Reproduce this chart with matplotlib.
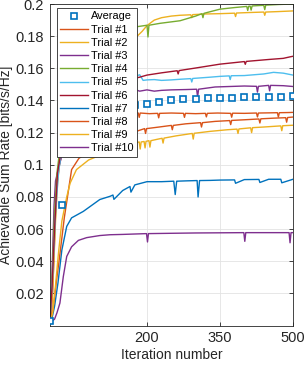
import numpy as np
import matplotlib.pyplot as plt

# average curve (markers every 25 iterations)
avg_it = [0, 25, 50, 75, 100, 125, 150, 175, 200, 225, 250, 275, 300,
          325, 350, 375, 400, 425, 450, 475, 500]
avg_val = [0.003, 0.075, 0.110, 0.122, 0.128, 0.132, 0.135, 0.137, 0.138,
           0.139, 0.1402, 0.1408, 0.1412, 0.1415, 0.1417, 0.1418, 0.142,
           0.142, 0.1421, 0.1423, 0.1425]

# trial curves (iteration, rate)
t1_it = [0, 3, 6, 9, 12, 15, 20, 30, 45, 70, 100, 140, 175, 182, 184, 186, 205,
         222, 224, 226, 250, 275, 277, 279, 300, 320, 322, 324, 345, 372, 374,
         376, 400, 425, 427, 429, 450, 468, 470, 472, 490, 500]
t1_val = [0.002, 0.006, 0.02, 0.045, 0.07, 0.088, 0.1, 0.113, 0.122, 0.128,
          0.131, 0.1325, 0.1326, 0.1322, 0.1295, 0.1322, 0.1318, 0.132, 0.1292,
          0.132, 0.1322, 0.132, 0.1295, 0.132, 0.1318, 0.132, 0.1298, 0.132,
          0.1322, 0.132, 0.1296, 0.1321, 0.132, 0.1322, 0.1298, 0.1322, 0.1323,
          0.1324, 0.1297, 0.1324, 0.1325, 0.1326]

t2_it = [0, 4, 8, 12, 16, 20, 30, 45, 70, 100, 140, 173, 190, 200, 215, 230,
         250, 268, 290, 292, 294, 320, 350, 380, 382, 384, 410, 440, 442, 444,
         470, 500]
t2_val = [0.002, 0.012, 0.035, 0.065, 0.088, 0.1, 0.118, 0.135, 0.15, 0.162,
          0.172, 0.178, 0.183, 0.1866, 0.19, 0.1915, 0.1925, 0.193, 0.1933,
          0.1915, 0.1934, 0.1938, 0.194, 0.1943, 0.1922, 0.1944, 0.1947, 0.195,
          0.193, 0.195, 0.1953, 0.1957]

t3_it = [0, 3, 6, 9, 12, 18, 30, 60, 100, 140, 173, 185, 200, 215, 230, 250,
         280, 302, 304, 306, 340, 370, 400, 425, 427, 429, 450, 452, 454, 480,
         500]
t3_val = [0.002, 0.015, 0.045, 0.075, 0.09, 0.0975, 0.112, 0.128, 0.138, 0.145,
          0.147, 0.1458, 0.1466, 0.1458, 0.1463, 0.1466, 0.1468, 0.147, 0.1422,
          0.147, 0.1484, 0.1487, 0.149, 0.1488, 0.1452, 0.1488, 0.1494, 0.146,
          0.1494, 0.1492, 0.1487]

t4_it = [0, 5, 10, 15, 25, 50, 100, 140, 173, 200, 202, 204, 227, 268, 300, 313,
         315, 317, 350, 380, 405, 407, 409, 412, 414, 416, 440, 442, 444, 470,
         500]
t4_val = [0.002, 0.03, 0.07, 0.095, 0.12, 0.15, 0.172, 0.182, 0.1856, 0.1868,
          0.1795, 0.1868, 0.188, 0.1896, 0.1925, 0.194, 0.1915, 0.1942, 0.1968,
          0.1978, 0.1985, 0.196, 0.1986, 0.1987, 0.1962, 0.1988, 0.1992, 0.1965,
          0.1993, 0.1997, 0.2]

t5_it = [0, 6, 12, 18, 30, 60, 120, 173, 180, 185, 192, 200, 215, 230, 250, 268,
         290, 292, 294, 330, 350, 369, 371, 373, 400, 440, 460, 480, 500]
t5_val = [0.002, 0.03, 0.07, 0.095, 0.12, 0.14, 0.152, 0.1548, 0.1555, 0.156,
          0.1525, 0.1528, 0.153, 0.1525, 0.1528, 0.1532, 0.1536, 0.1515, 0.1537,
          0.1545, 0.155, 0.1553, 0.153, 0.1554, 0.1555, 0.1565, 0.1575, 0.157,
          0.1558]

t6_it = [0, 5, 10, 16, 30, 60, 120, 173, 185, 200, 230, 262, 264, 266, 300,
         350, 400, 402, 404, 450, 480, 495, 500]
t6_val = [0.002, 0.025, 0.06, 0.095, 0.12, 0.138, 0.15, 0.1537, 0.1545, 0.1558,
          0.1572, 0.1585, 0.1565, 0.1586, 0.1602, 0.1626, 0.1642, 0.1625,
          0.1643, 0.1655, 0.1662, 0.1672, 0.1675]

t7_it = [0, 4, 10, 17, 25, 35, 45, 69, 103, 124, 130, 132, 150, 165, 167, 175,
         200, 230, 255, 258, 261, 280, 303, 305, 308, 330, 350, 380, 382, 400,
         430, 432, 450, 475, 477, 500]
t7_val = [0.002, 0.0035, 0.012, 0.0265, 0.047, 0.0617, 0.067, 0.071, 0.0784,
          0.0804, 0.0812, 0.0785, 0.084, 0.0865, 0.083, 0.0875, 0.0895, 0.0895,
          0.0898, 0.0815, 0.0898, 0.09, 0.0902, 0.080, 0.0902, 0.0903, 0.0905,
          0.0906, 0.0885, 0.0908, 0.0909, 0.089, 0.091, 0.091, 0.0888, 0.091]

t8_it = [0, 7, 14, 20, 30, 45, 60, 100, 140, 175, 195, 197, 199, 225, 250, 252,
         254, 280, 310, 312, 314, 340, 370, 372, 374, 400, 430, 432, 434, 460,
         485, 487, 489, 500]
t8_val = [0.001, 0.01, 0.028, 0.042, 0.067, 0.097, 0.104, 0.112, 0.117, 0.1205,
          0.1225, 0.1195, 0.1225, 0.1235, 0.1245, 0.1218, 0.1245, 0.1255, 0.1262,
          0.1235, 0.1262, 0.127, 0.1275, 0.125, 0.1276, 0.128, 0.1285, 0.126,
          0.1286, 0.129, 0.1293, 0.1265, 0.1294, 0.1297]

t9_it = [0, 6, 12, 18, 25, 35, 42, 55, 80, 120, 173, 184, 186, 188, 194, 196,
         198, 204, 206, 208, 220, 231, 233, 235, 260, 293, 295, 297, 330, 365,
         385, 387, 389, 413, 415, 417, 440, 475, 477, 479, 500]
t9_val = [0.001, 0.008, 0.025, 0.045, 0.065, 0.08, 0.0886, 0.097, 0.103, 0.108,
          0.1135, 0.1142, 0.1098, 0.1142, 0.1145, 0.1105, 0.1146, 0.115, 0.111,
          0.115, 0.1158, 0.1165, 0.1135, 0.1166, 0.118, 0.1195, 0.116, 0.1196,
          0.1208, 0.1218, 0.1222, 0.1195, 0.1223, 0.123, 0.12, 0.1231, 0.1235,
          0.1242, 0.1212, 0.1243, 0.1246]

t10_it = [0, 10, 15, 21, 28, 35, 45, 59, 76, 103, 124, 150, 199, 201, 203, 250,
          300, 350, 399, 401, 403, 450, 492, 494, 496, 500]
t10_val = [0.0016, 0.004, 0.008, 0.014, 0.0305, 0.043, 0.049, 0.053, 0.0547,
           0.056, 0.0565, 0.0567, 0.0572, 0.052, 0.0572, 0.0574, 0.0576, 0.0577,
           0.0578, 0.0524, 0.0578, 0.0578, 0.0578, 0.0515, 0.0578, 0.0578]

trials = [(t1_it, t1_val), (t2_it, t2_val), (t3_it, t3_val), (t4_it, t4_val),
          (t5_it, t5_val), (t6_it, t6_val), (t7_it, t7_val), (t8_it, t8_val),
          (t9_it, t9_val), (t10_it, t10_val)]

# MATLAB default colour order, trials continue after the average (first colour)
colors = ["#0072BD", "#D95319", "#EDB120", "#7E2F8E", "#77AC30",
          "#4DBEEE", "#A2142F"]

plt.rcParams.update({
    "font.family": ["Liberation Sans", "DejaVu Sans"],
    "font.size": 10,
    "axes.edgecolor": "#262626",
    "axes.linewidth": 0.6,
    "xtick.color": "#262626",
    "ytick.color": "#262626",
    "xtick.direction": "in",
    "ytick.direction": "in",
})

fig = plt.figure(figsize=(3.06, 3.65), dpi=100)
ax = fig.add_axes([0.1624, 0.108, 0.795, 0.881])

handles = []
for k, (it, val) in enumerate(trials):
    h, = ax.plot(it, val, color=colors[(k + 1) % 7], linewidth=1.0,
                 label=f"Trial #{k + 1}", zorder=2)
    handles.append(h)

h_avg, = ax.plot(avg_it, avg_val, linestyle="none", marker="s", markersize=4,
                 markerfacecolor="white", markeredgecolor=colors[0],
                 markeredgewidth=1.2, label="Average", zorder=4)

ax.set_xlim(0, 500)
ax.set_ylim(0, 0.2)
ax.set_xticks([200, 350, 500])
yt = np.arange(0.02, 0.201, 0.02)
ax.set_yticks(yt)
ax.set_yticklabels([f"{v:g}" for v in np.round(yt, 2)])
ax.tick_params(axis="both", labelsize=10.5, length=3, width=0.6,
               top=True, right=True, pad=4)
ax.grid(True, color="#E3E3E3", linewidth=0.6, zorder=0)
ax.set_axisbelow(True)

ax.set_xlabel("Iteration number", fontsize=10, color="#262626", labelpad=2)
ax.set_ylabel("Achievable Sum Rate [bits/s/Hz]", fontsize=10,
              color="#262626", labelpad=2)

leg = ax.legend([h_avg] + handles, [h_avg.get_label()] + [h.get_label() for h in handles],
                loc="upper left", bbox_to_anchor=(0.030, 0.987),
                borderaxespad=0, fontsize=7.9, frameon=True, fancybox=False,
                framealpha=1, edgecolor="#262626", handlelength=2.5,
                handletextpad=0.3, labelspacing=0.29, borderpad=0.3)
leg.get_frame().set_linewidth(0.6)

fig.savefig("out.png", dpi=100)
